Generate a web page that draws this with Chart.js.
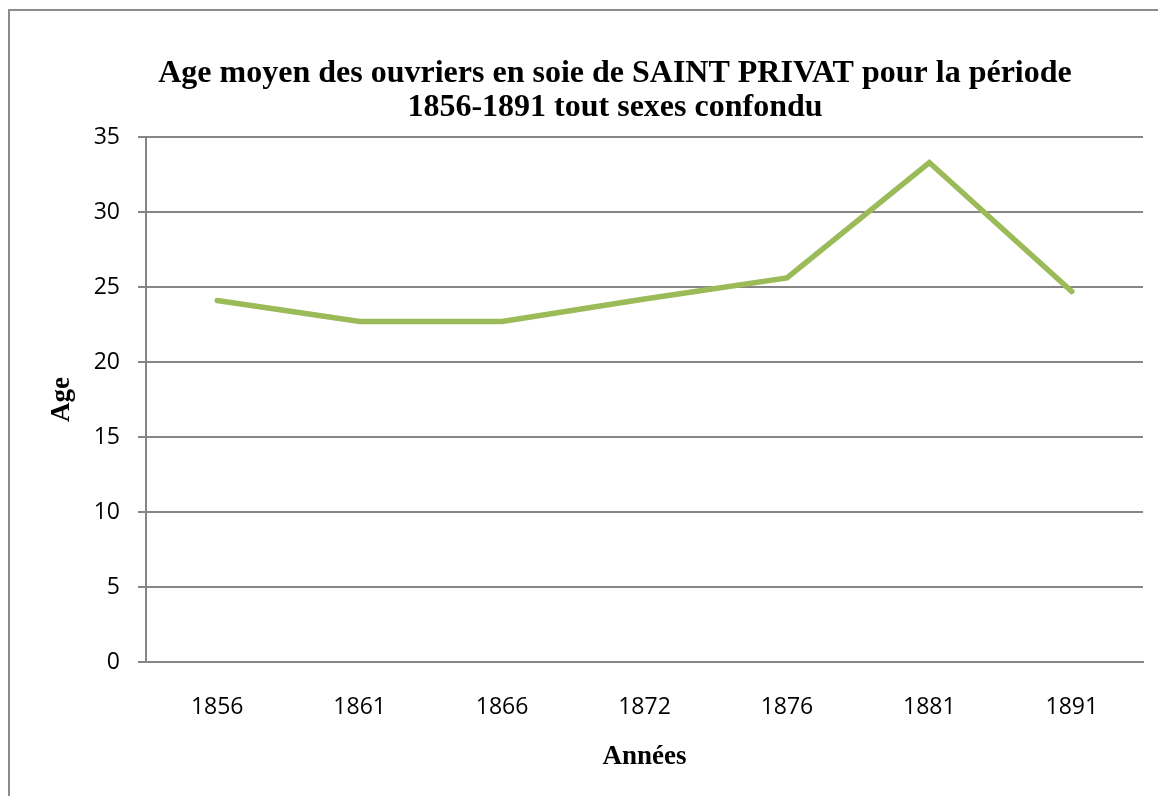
<!DOCTYPE html>
<html>
<head>
<meta charset="utf-8">
<script src="https://cdn.jsdelivr.net/npm/chart.js@4/dist/chart.umd.min.js"></script>
<style>
    html, body { margin: 0; padding: 0; background: #fff; }
    #wrap { position: relative; width: 1158px; height: 796px; }
</style>
</head>
<body>
<div id="wrap"><canvas id="ageChart"></canvas></div>
<script>
/* Age moyen des ouvriers en soie — Saint Privat */

const years = ['1856', '1861', '1866', '1872', '1876', '1881', '1891'];
const ageMoyen = [24.1, 22.7, 22.7, 24.2, 25.6, 33.3, 24.7];
const yTicks = [0, 5, 10, 15, 20, 25, 30, 35];

const GRID = '#868686';
const SERIF = '"Liberation Serif", "Times New Roman", serif';
const SANS = '"Open Sans", "Noto Sans", sans-serif';

/* outer frame of the chart object (left and top edges only visible) */
const framePlugin = {
    id: 'frame',
    beforeDraw(chart) {
        const ctx = chart.ctx;
        ctx.save();
        ctx.strokeStyle = '#8c8c8c';
        ctx.lineWidth = 2;
        ctx.beginPath();
        ctx.moveTo(9, chart.height);
        ctx.lineTo(9, 10);
        ctx.lineTo(chart.width, 10);
        ctx.stroke();
        ctx.restore();
    }
};

new Chart(document.getElementById('ageChart'), {
    type: 'line',
    data: {
        labels: years,
        datasets: [{
            label: 'Age',
            data: ageMoyen,
            borderColor: '#9BBB59',
            backgroundColor: '#9BBB59',
            borderWidth: 5.5,
            borderCapStyle: 'round',
            pointRadius: 0,
            tension: 0,
        }]
    },
    options: {
        responsive: true,
        maintainAspectRatio: false,
        animation: false,
        // wide left padding so the title centres where the original does
        layout: { padding: { top: 10, left: 87, right: 15, bottom: 12 } },
        plugins: {
            legend: { display: false },
            tooltip: { enabled: false },
            title: {
                display: true,
                text: ['Age moyen des ouvriers en soie de SAINT PRIVAT pour la période', '1856-1891 tout sexes confondu'],
                color: '#000',
                font: { family: SERIF, size: 32, weight: 'bold', lineHeight: 1.0625 },
                padding: { top: 47, bottom: 12 },
            },
        },
        scales: {
            x: {
                offset: true,
                afterFit: scale => { scale.height = 122; },
                grid: { display: false, drawTicks: false, tickLength: 0 },
                border: { display: true, color: GRID, width: 2 },
                ticks: { color: '#000', font: { family: SANS, size: 23 }, padding: 32, maxRotation: 0 },
                title: {
                    display: true, text: 'Années', color: '#000',
                    font: { family: SERIF, size: 27, weight: 'bold' },
                    padding: { top: 0, bottom: 11 },
                },
            },
            y: {
                min: 0,
                max: 35,
                afterBuildTicks: scale => { scale.ticks = yTicks.map(v => ({ value: v })); },
                afterFit: scale => { scale.width = 59; },
                grid: { color: GRID, lineWidth: 2, tickLength: 8 },
                border: { display: true, color: GRID, width: 2 },
                ticks: { color: '#000', font: { family: SANS, size: 23 }, padding: 18 },
                title: {
                    display: true, text: 'Age', color: '#000',
                    font: { family: SERIF, size: 27, weight: 'bold' },
                    padding: { top: -41, bottom: 0 },
                },
            },
        },
    },
    plugins: [framePlugin],
});
</script>
</body>
</html>
